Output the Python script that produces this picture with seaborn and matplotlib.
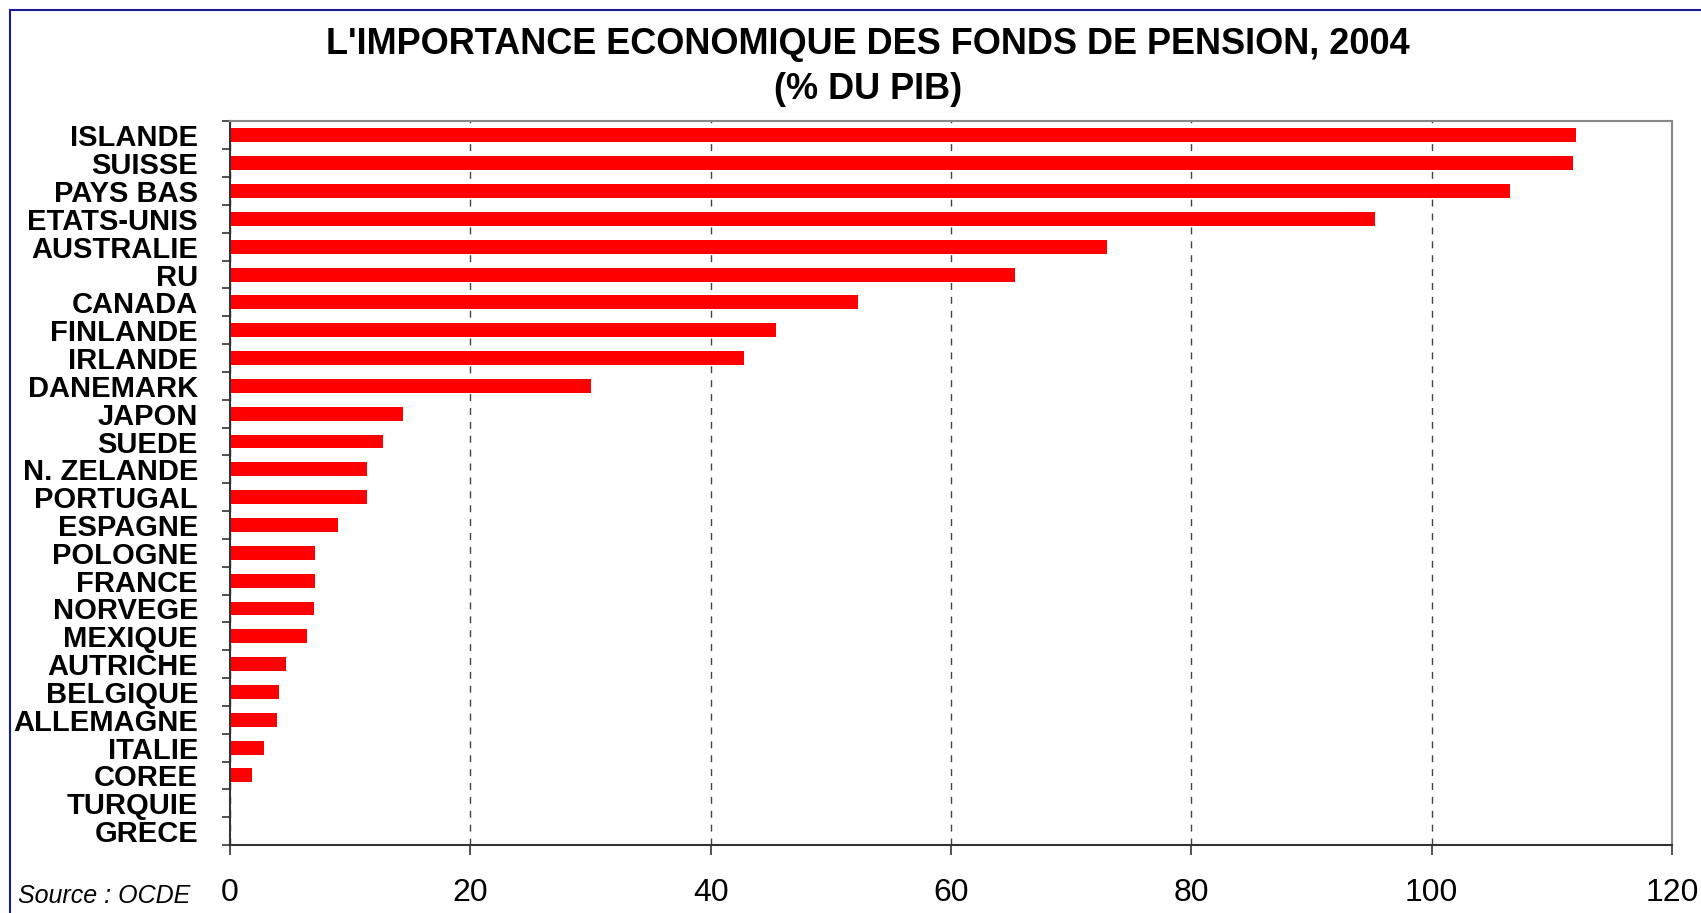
import matplotlib
matplotlib.use("Agg")
import matplotlib.pyplot as plt
import seaborn as sns
import pandas as pd
from matplotlib.patches import Rectangle
from matplotlib.ticker import FixedLocator

countries = ["ISLANDE", "SUISSE", "PAYS BAS", "ETATS-UNIS", "AUSTRALIE", "RU",
             "CANADA", "FINLANDE", "IRLANDE", "DANEMARK", "JAPON", "SUEDE",
             "N. ZELANDE", "PORTUGAL", "ESPAGNE", "POLOGNE", "FRANCE", "NORVEGE",
             "MEXIQUE", "AUTRICHE", "BELGIQUE", "ALLEMAGNE", "ITALIE", "COREE",
             "TURQUIE", "GRECE"]
values = [112.0, 111.8, 106.5, 95.3, 73.0, 65.3,
          52.3, 45.4, 42.8, 30.0, 14.4, 12.7,
          11.4, 11.4, 9.0, 7.1, 7.1, 7.0,
          6.4, 4.7, 4.1, 3.9, 2.8, 1.8,
          0.0, 0.0]
x_ticks = [0, 20, 40, 60, 80, 100, 120]
title = "L'IMPORTANCE ECONOMIQUE DES FONDS DE PENSION, 2004\n(% DU PIB)"
source = "Source : OCDE"

sns.set_theme(style="white")
plt.rcParams['font.family'] = ['Liberation Sans', 'DejaVu Sans']

W, H = 1701, 913
fig = plt.figure(figsize=(W / 100, H / 100), dpi=100)
ax = fig.add_axes([230 / W, 1 - 845 / H, (1672 - 230) / W, (845 - 121.5) / H])

df = pd.DataFrame({"pays": countries, "valeur": values})
sns.barplot(data=df, x="valeur", y="pays", orient="h", color="#FF0000",
            saturation=1, width=0.5, ax=ax, edgecolor="none")

ax.set_xlim(0, 120)
ax.set_ylim(len(countries) - 0.5, -0.5)
ax.set_xlabel("")
ax.set_ylabel("")
ax.set_xticks(x_ticks)
ax.set_xticklabels([str(t) for t in x_ticks], fontsize=23, color="black")

ax.set_axisbelow(True)
ax.xaxis.grid(True, linestyle=(0, (5, 5)), color="#444444", linewidth=1)
ax.yaxis.grid(False)

ax.yaxis.set_minor_locator(FixedLocator([i - 0.5 for i in range(len(countries) + 1)]))
ax.tick_params(axis="y", which="major", length=0, pad=23)
ax.tick_params(axis="y", which="minor", length=6, width=1.2, color="#333333", direction="out", left=True)
ax.tick_params(axis="x", which="major", length=7, width=1.2, color="#333333", direction="out", bottom=True, pad=17)
for lab in ax.get_yticklabels():
    lab.set_fontweight("bold")
    lab.set_fontsize(21)
    lab.set_color("black")

for s in ["left", "bottom"]:
    ax.spines[s].set_color("#333333")
    ax.spines[s].set_linewidth(1.5)
for s in ["top", "right"]:
    ax.spines[s].set_color("#888888")
    ax.spines[s].set_linewidth(1.5)
    ax.spines[s].set_visible(True)

fig.text(868 / W, 1 - 67 / H, title, ha="center", va="center", fontsize=26,
         fontweight="bold", color="black", linespacing=1.4)
fig.text(18 / W, 1 - 896 / H, source, ha="left", va="center", fontsize=18,
         style="italic", color="black")

fig.patches.append(Rectangle((10 / W, -0.1), 2, 1.1 - 10 / H, transform=fig.transFigure,
                             fill=False, edgecolor="#1a1a99", linewidth=1.5))

fig.savefig("out.png", dpi=100)
